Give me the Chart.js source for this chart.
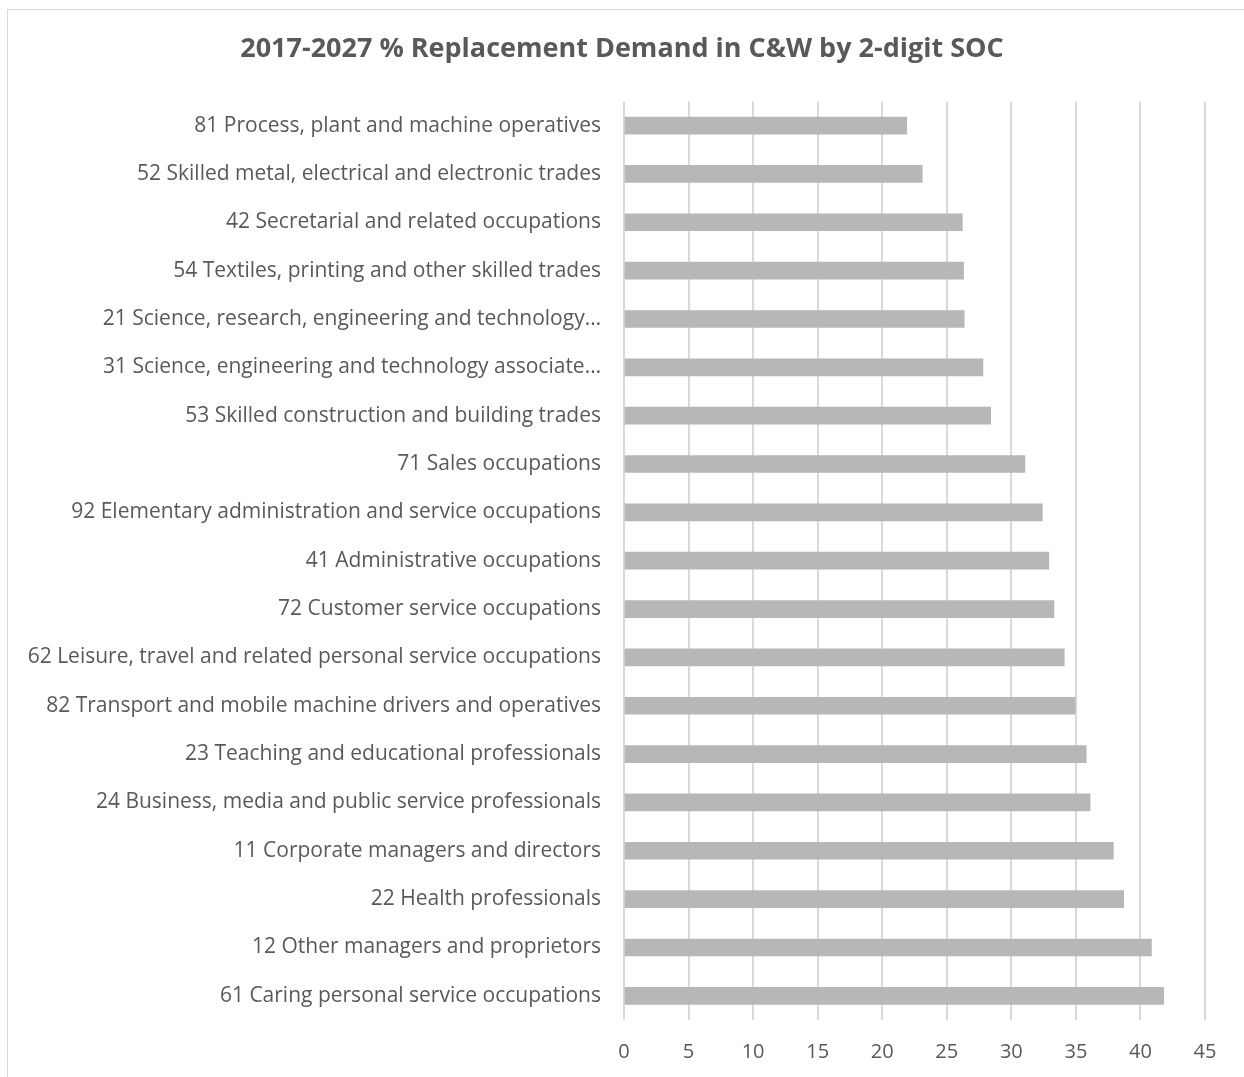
<!DOCTYPE html>
<html>
<head>
<meta charset="utf-8">
<script src="https://cdn.jsdelivr.net/npm/chart.js@4/dist/chart.umd.min.js"></script>
<style>
	html, body { margin: 0; padding: 0; background: #fff; }
	#wrap { width: 1244px; height: 1077px; }
</style>
</head>
<body>
<div id="wrap"><canvas id="grafico"></canvas></div>
<script>
const titulo = '2017-2027 % Replacement Demand in C&W by 2-digit SOC';

const categorias = [
	'81 Process, plant and machine operatives',
	'52 Skilled metal, electrical and electronic trades',
	'42 Secretarial and related occupations',
	'54 Textiles, printing and other skilled trades',
	'21 Science, research, engineering and technology\u2026',
	'31 Science, engineering and technology associate\u2026',
	'53 Skilled construction and building trades',
	'71 Sales occupations',
	'92 Elementary administration and service occupations',
	'41 Administrative occupations',
	'72 Customer service occupations',
	'62 Leisure, travel and related personal service occupations',
	'82 Transport and mobile machine drivers and operatives',
	'23 Teaching and educational professionals',
	'24 Business, media and public service professionals',
	'11 Corporate managers and directors',
	'22 Health professionals',
	'12 Other managers and proprietors',
	'61 Caring personal service occupations'
];

const valores = [21.9, 23.1, 26.2, 26.3, 26.35, 27.8, 28.4, 31.05, 32.4, 32.9, 33.3, 34.1, 34.95, 35.8, 36.1, 37.9, 38.7, 40.85, 41.8];

const eixoMin = 0;
const eixoMax = 45;
const passo = 5;

const corTexto = '#595959';
const corGrade = '#d9d9d9';

// moldura cinza clara em volta do grafico, como no Excel
const moldura = {
	id: 'moldura',
	afterLayout(chart) {
		// rotulos longos passam do padding esquerdo, nao cortar
		chart.scales.y.left = 0;
	},
	beforeDraw(chart) {
		const ctx = chart.ctx;
		ctx.save();
		ctx.fillStyle = '#ffffff';
		ctx.fillRect(0, 0, chart.width, chart.height);
		ctx.strokeStyle = corGrade;
		ctx.lineWidth = 1;
		ctx.strokeRect(7.5, 9.5, chart.width + 10, chart.height + 10);
		ctx.restore();
	}
};

function montaChart() {
	const ctx = document.getElementById('grafico');
	return new Chart(ctx, {
		type: 'bar',
		data: {
			labels: categorias,
			datasets: [
				{
					data: valores,
					backgroundColor: '#b7b7b7',
					borderWidth: 0,
					barThickness: 17
				}
			]
		},
		options: {
			indexAxis: 'y',
			responsive: true,
			maintainAspectRatio: false,
			animation: false,
			layout: {
				padding: { top: 0, right: 39, bottom: 0, left: 39 }
			},
			scales: {
				x: {
					min: eixoMin,
					max: eixoMax,
					ticks: {
						stepSize: passo,
						color: corTexto,
						padding: 20,
						font: { family: 'Open Sans', size: 20 }
					},
					grid: {
						color: corGrade,
						lineWidth: 2,
						drawTicks: false
					},
					border: { display: false },
					afterFit(scale) { scale.height = 57; }
				},
				y: {
					ticks: {
						color: corTexto,
						padding: 23,
						autoSkip: false,
						font: { family: 'Open Sans', size: 21 }
					},
					grid: { display: false, drawTicks: false },
					border: { display: false },
					afterFit(scale) { scale.width = 585; }
				}
			},
			plugins: {
				legend: { display: false },
				tooltip: { enabled: false },
				title: {
					display: true,
					text: titulo,
					color: corTexto,
					font: { family: 'Open Sans', size: 27, weight: 'bold' },
					padding: { top: 33, bottom: 36 }
				}
			}
		},
		plugins: [moldura]
	});
}

window.onload = () => {
	montaChart();
}
</script>
</body>
</html>
